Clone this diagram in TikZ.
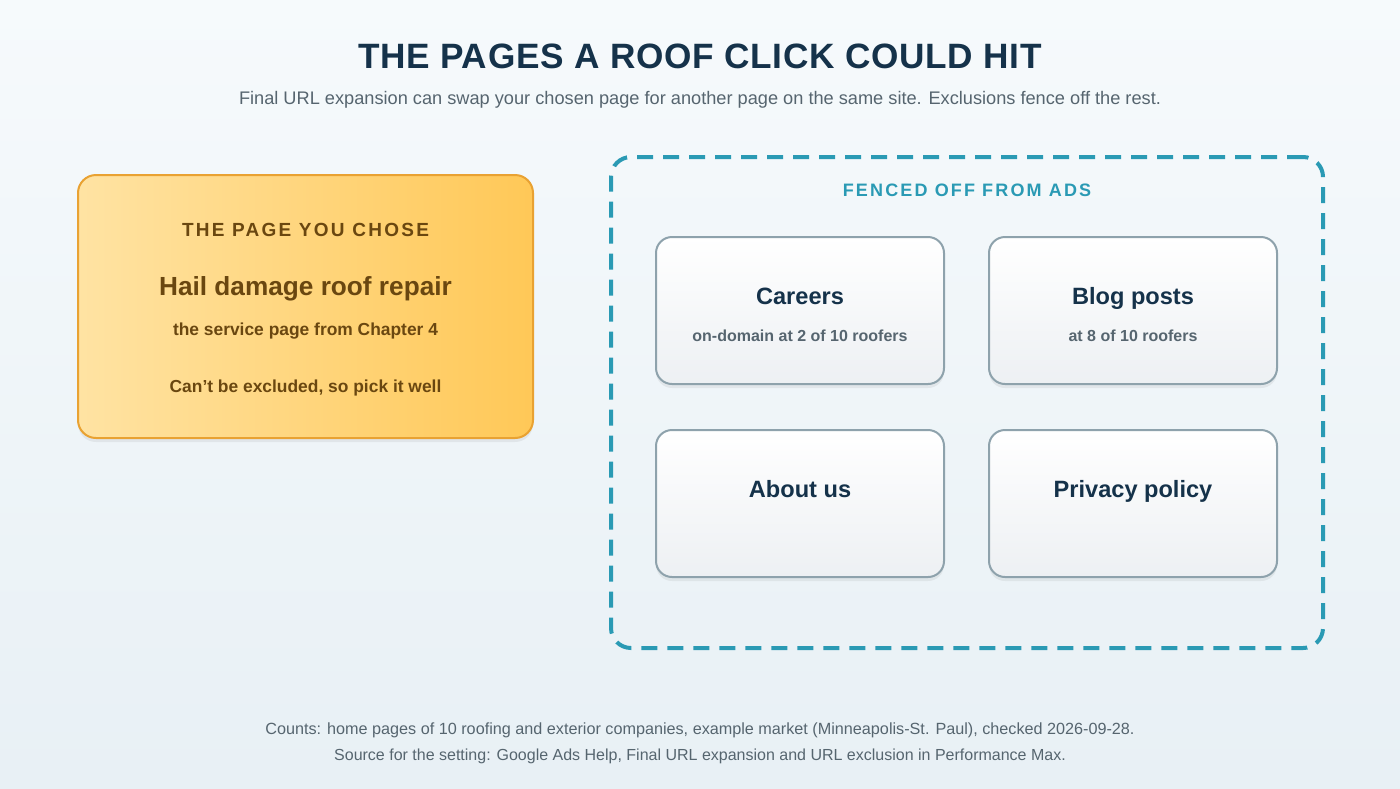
\documentclass[tikz,border=0pt]{standalone}
\usepackage{fontspec}
\setmainfont{Liberation Sans}
\newfontfamily\spaced[LetterSpace=12]{Liberation Sans}
\newfontfamily\spacedt[LetterSpace=2]{Liberation Sans}
\usetikzlibrary{shadows}
\definecolor{bgtop}{HTML}{F6FAFC}
\definecolor{bgbot}{HTML}{E8F0F5}
\definecolor{navy}{HTML}{15324A}
\definecolor{sub}{HTML}{56656F}
\definecolor{ylL}{HTML}{FFE3A3}
\definecolor{ylR}{HTML}{FFC857}
\definecolor{ylB}{HTML}{E9A232}
\definecolor{brown}{HTML}{6A4710}
\definecolor{teal}{HTML}{2A9AB4}
\definecolor{cardB}{HTML}{8EA2AC}
\definecolor{cardG}{HTML}{EDF0F3}
\tikzset{
 card/.style={draw=cardB,line width=1pt,rounded corners=8pt,top color=white,bottom color=cardG,
   drop shadow={shadow xshift=0pt,shadow yshift=-2pt,opacity=0.12}},
 ctitle/.style={font=\bfseries\fontsize{11.8}{13}\selectfont,text=navy,text height=8.5pt,text depth=2.5pt},
 csub/.style={font=\bfseries\fontsize{8}{10}\selectfont,text=sub},
}
\begin{document}
\begin{tikzpicture}[x=0.5pt,y=-0.5pt]
\fill[top color=bgtop,bottom color=bgbot] (0,0) rectangle (1400,788);
\useasboundingbox (0,0) rectangle (1400,788);
\node (title) at (700,56) {\spacedt\bfseries\fontsize{17.6}{20}\selectfont\color{navy}THE PAGES A ROOF CLICK COULD HIT};
\node (subt) at (700,100) {\fontsize{9.1}{11}\selectfont\color{sub}Final URL expansion can swap your chosen page for another page on the same site. Exclusions fence off the rest.};
% chosen
\node[draw=ylB,line width=1pt,rounded corners=9pt,left color=ylL,right color=ylR,minimum width=227.5pt,minimum height=131.5pt,
  drop shadow={shadow xshift=0pt,shadow yshift=-2pt,opacity=0.12}] (chosen) at (305.5,306.5) {};
\node (ch1) at (305.5,230) {\spaced\bfseries\fontsize{9.5}{11}\selectfont\color{brown}THE PAGE YOU CHOSE};
\node (ch2) at (305.5,289) {\bfseries\fontsize{13.1}{15}\selectfont\color{brown}Hail damage roof repair};
\node (ch3) at (305.5,331) {\bfseries\fontsize{8.7}{10}\selectfont\color{brown}the service page from Chapter 4};
\node (ch4) at (305.5,388) {\bfseries\fontsize{8.7}{10}\selectfont\color{brown}Can't be excluded, so pick it well};
% fence
\node[draw=teal,line width=2pt,dash pattern=on 8pt off 5pt,rounded corners=10pt,minimum width=356pt,minimum height=245.5pt] (fence) at (967,402.5) {};
\node (fl) at (967,190) {\spaced\bfseries\fontsize{9}{11}\selectfont\color{teal}FENCED OFF FROM ADS};
\node[card,minimum width=144pt,minimum height=73.5pt] (c1) at (800,310.5) {};
\node[card,minimum width=144pt,minimum height=73.5pt] (c2) at (1133,310.5) {};
\node[card,minimum width=144pt,minimum height=73.5pt] (c3) at (800,503.5) {};
\node[card,minimum width=144pt,minimum height=73.5pt] (c4) at (1133,503.5) {};
\node[ctitle] at (800,298) {Careers};
\node[csub] at (800,336) {on-domain at 2 of 10 roofers};
\node[ctitle] at (1133,298) {Blog posts};
\node[csub] at (1133,336) {at 8 of 10 roofers};
\node[ctitle] at (800,491) {About us};
\node[ctitle] at (1133,491) {Privacy policy};
\node (f1) at (700,730) {\fontsize{8.1}{9}\selectfont\color{sub}Counts: home pages of 10 roofing and exterior companies, example market (Minneapolis-St. Paul), checked 2026-09-28.};
\node (f2) at (700,756) {\fontsize{8}{9}\selectfont\color{sub}Source for the setting: Google Ads Help, Final URL expansion and URL exclusion in Performance Max.};
\end{tikzpicture}
\end{document}
